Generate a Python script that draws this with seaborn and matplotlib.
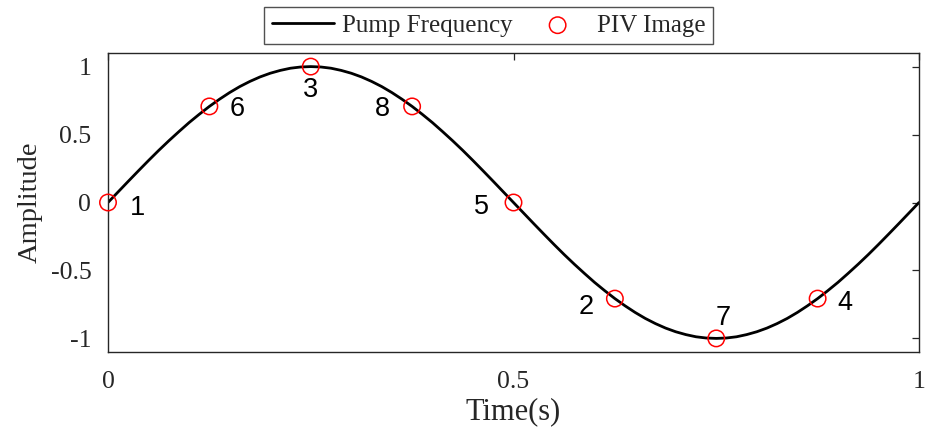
import matplotlib
matplotlib.use("Agg")
import matplotlib.pyplot as plt
import seaborn as sns
import pandas as pd

# Pump frequency curve
time_curve = [i * 0.0125 for i in range(81)]
amp_curve = [0.0, 0.078, 0.156, 0.233, 0.309, 0.383, 0.454, 0.522, 0.588, 0.649,
             0.707, 0.760, 0.809, 0.853, 0.891, 0.924, 0.951, 0.972, 0.988, 0.997,
             1.0, 0.997, 0.988, 0.972, 0.951, 0.924, 0.891, 0.853, 0.809, 0.760,
             0.707, 0.649, 0.588, 0.522, 0.454, 0.383, 0.309, 0.233, 0.156, 0.078,
             0.0, -0.078, -0.156, -0.233, -0.309, -0.383, -0.454, -0.522, -0.588, -0.649,
             -0.707, -0.760, -0.809, -0.853, -0.891, -0.924, -0.951, -0.972, -0.988, -0.997,
             -1.0, -0.997, -0.988, -0.972, -0.951, -0.924, -0.891, -0.853, -0.809, -0.760,
             -0.707, -0.649, -0.588, -0.522, -0.454, -0.383, -0.309, -0.233, -0.156, -0.078,
             0.0]

# PIV image points
piv_time = [0.0, 0.125, 0.25, 0.375, 0.5, 0.625, 0.75, 0.875]
piv_amp = [0.0, 0.707, 1.0, 0.707, 0.0, -0.707, -1.0, -0.707]
piv_labels = ["1", "6", "3", "8", "5", "2", "7", "4"]
# label offsets in pixels: (right, down)
label_offsets = [(29, 5), (28, 3), (0, 23), (-30, 3), (-32, 4), (-29, 8), (7, -20), (27, 4)]

x_ticks = [0, 0.5, 1]
x_ticklabels = ["0", "0.5", "1"]
y_ticks = [-1, -0.5, 0, 0.5, 1]
y_ticklabels = ["-1", "-0.5", "0", "0.5", "1"]

sns.set_theme(style="white")
plt.rcParams["font.family"] = ["Liberation Serif", "DejaVu Serif"]

curve_df = pd.DataFrame({"Time": time_curve, "Amplitude": amp_curve})
piv_df = pd.DataFrame({"Time": piv_time, "Amplitude": piv_amp})

fig = plt.figure(figsize=(9.25, 4.34), dpi=100)
ax = fig.add_axes([108 / 925, 1 - 352 / 434, (919 - 108) / 925, (352 - 53) / 434])

sns.lineplot(data=curve_df, x="Time", y="Amplitude", ax=ax, color="black",
             linewidth=2, label="Pump Frequency", sort=False)
sns.scatterplot(data=piv_df, x="Time", y="Amplitude", ax=ax, marker="o",
                s=140, facecolors="none", edgecolor="red", linewidth=1.1,
                label="PIV Image", zorder=5, clip_on=False)

for xv, yv, lab, (dx, dy) in zip(piv_time, piv_amp, piv_labels, label_offsets):
    ax.annotate(lab, (xv, yv), xytext=(dx, -dy), textcoords="offset pixels",
                ha="center", va="center", fontsize=19.5,
                fontfamily=["Liberation Sans", "DejaVu Sans"], color="black")

ax.set_xlim(0, 1)
ax.set_ylim(-1.1, 1.1)
ax.set_xticks(x_ticks)
ax.set_xticklabels(x_ticklabels)
ax.set_yticks(y_ticks)
ax.set_yticklabels(y_ticklabels)
ax.tick_params(direction="in", length=5, width=0.9, top=True, right=True,
               labelsize=18.5, colors="#262626")
ax.tick_params(axis="x", pad=14)
ax.tick_params(axis="y", pad=12)
for sp in ax.spines.values():
    sp.set_color("#262626")
    sp.set_linewidth(1.0)
ax.set_xlabel("Time(s)", fontsize=22, color="#262626", labelpad=3)
ax.set_ylabel("Amplitude", fontsize=20.5, color="#262626", labelpad=6)

leg = ax.legend(loc="center", bbox_to_anchor=(488.5 / 925, 1 - 25.5 / 434),
                bbox_transform=fig.transFigure, ncol=2, frameon=True,
                fontsize=18, fancybox=False, edgecolor="#262626",
                handlelength=2.5, columnspacing=0.55, borderpad=0.3,
                handletextpad=0.32, borderaxespad=0)
leg.get_frame().set_linewidth(1.0)

fig.savefig("out.png", dpi=100)
